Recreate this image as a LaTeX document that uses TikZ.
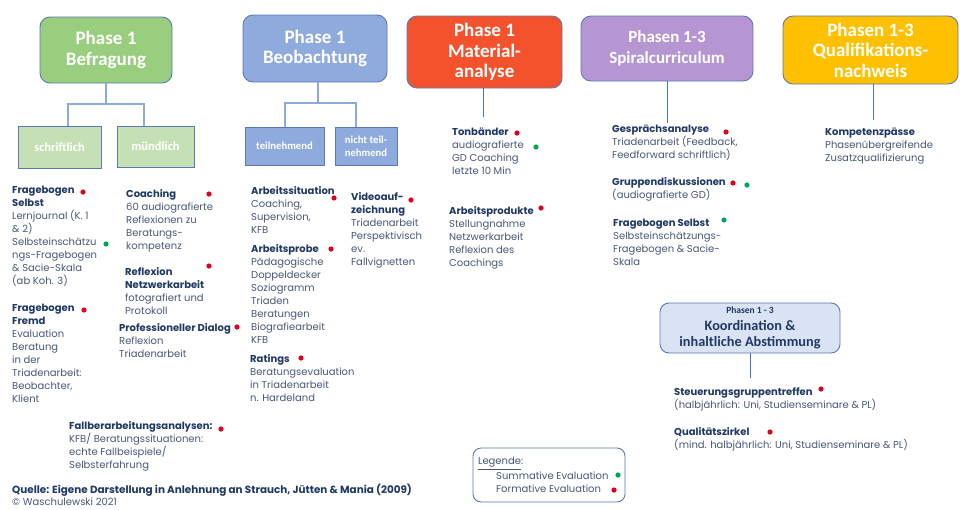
\documentclass[tikz,border=0pt]{standalone}
\usepackage{fontspec}
\setmainfont{Poppins}
\newfontfamily\calibrifont{Carlito}
\usetikzlibrary{positioning}

\definecolor{navy}{HTML}{203864}
\definecolor{bodygray}{HTML}{485878}
\definecolor{boxline}{HTML}{5A79B5}
\definecolor{treeblue}{HTML}{8EA9DB}
\definecolor{stemblue}{HTML}{4472C4}
\definecolor{befrgreen}{HTML}{99CE7E}
\definecolor{subgreen}{HTML}{C5E0B4}
\definecolor{beobblue}{HTML}{8FAADC}
\definecolor{matorange}{HTML}{F4522D}
\definecolor{spiralpurple}{HTML}{B596D2}
\definecolor{qualigold}{HTML}{FFC000}
\definecolor{koordblue}{HTML}{DAE3F3}
\definecolor{evalred}{HTML}{E0001B}
\definecolor{evalgreen}{HTML}{00A651}

\newcommand{\kopf}[1]{{\bfseries\color{navy}#1}}

\tikzset{
    phasebox/.style={draw=boxline, line width=0.9pt, rounded corners=10pt, text=white,
        align=center, inner sep=0pt, font=\calibrifont\bfseries\fontsize{19}{20.5}\selectfont},
    subbox/.style={draw=boxline, line width=0.8pt, text=white, align=center, inner sep=0pt},
    infotext/.style={anchor=north west, align=left, inner sep=0pt, text=bodygray,
        font=\fontsize{10}{13}\selectfont},
    treeline/.style={treeblue, line width=1.3pt},
    stemline/.style={stemblue, line width=1pt},
    reddot/.style={fill=evalred},
    greendot/.style={fill=evalgreen},
}

\begin{document}
\begin{tikzpicture}[x=1pt,y=-1pt]
  \useasboundingbox[fill=white] (0,0) rectangle (960,509);

  % Phasen oben
  \node[phasebox,fill=befrgreen,minimum width=132,minimum height=66] (befr) at (106,50) {Phase 1\\Befragung};
  \node[phasebox,fill=beobblue,minimum width=144,minimum height=67] (beob) at (315,48.5) {Phase 1\\Beobachtung};
  \node[phasebox,fill=matorange,minimum width=155,minimum height=72] (mat) at (484.5,52) {Phase 1\\Material-\\analyse};
  \node[phasebox,fill=spiralpurple,minimum width=172,minimum height=65,
      font=\calibrifont\bfseries\fontsize{17}{21}\selectfont] (spiral) at (667,48.5) {Phasen 1-3\\Spiralcurriculum};
  \node[phasebox,fill=qualigold,minimum width=175,minimum height=68] (quali) at (870.5,50) {Phasen 1-3\\Qualifikations-\\nachweis};

  % Unterkaesten
  \node[subbox,fill=subgreen,minimum width=83,minimum height=42,
      font=\calibrifont\bfseries\fontsize{12.5}{14}\selectfont] (schr) at (59.5,147) {schriftlich};
  \node[subbox,fill=subgreen,minimum width=77,minimum height=41,
      font=\calibrifont\bfseries\fontsize{12.5}{14}\selectfont] (muend) at (155.5,146.5) {mündlich};
  \node[subbox,fill=beobblue,minimum width=79,minimum height=38,
      font=\calibrifont\bfseries\fontsize{10.7}{13}\selectfont] (teiln) at (284.5,146) {teilnehmend};
  \node[subbox,fill=beobblue,minimum width=62,minimum height=38,
      font=\calibrifont\bfseries\fontsize{10.7}{13}\selectfont] (nteiln) at (366,146) {nicht teil-\\nehmend};

  % Baumlinien
  \coordinate (befrL) at (68,104);
  \coordinate (befrR) at (144,104);
  \draw[treeline] (befr.south) -- (befr.south |- befrL);
  \draw[treeline] (befrL |- schr.north) -- (befrL) -- (befrR) -- (befrR |- muend.north);
  \coordinate (beobL) at (285,103);
  \coordinate (beobR) at (356,103);
  \draw[treeline] (318,0 |- beob.south) -- (318,103);
  \draw[treeline] (beobL |- teiln.north) -- (beobL) -- (beobR) -- (beobR |- nteiln.north);

  % Stiele
  \coordinate (matend) at (483,117);
  \coordinate (spiralend) at (667,123);
  \coordinate (qualiend) at (873,120);
  \draw[stemline] (matend |- mat.south) -- (matend);
  \draw[stemline] (spiral.south) -- (spiralend);
  \draw[stemline] (qualiend |- quali.south) -- (qualiend);

  % Befragung
  \node[infotext] (fbselbst) at (12,186) {\kopf{Fragebogen}\\\kopf{Selbst}\\Lernjournal (K. 1\\\& 2)\\Selbsteinschätzu\\ngs-Fragebogen\\\& Sacie-Skala\\(ab Koh. 3)};
  \node[infotext] (fbfremd) at (12,304) {\kopf{Fragebogen}\\\kopf{Fremd}\\Evaluation\\Beratung\\in der\\Triadenarbeit:\\Beobachter,\\Klient};
  \node[infotext] (coaching) at (126,189) {\kopf{Coaching}\\60 audiografierte\\Reflexionen zu\\Beratungs-\\kompetenz};
  \node[infotext] (reflex) at (125,267) {\kopf{Reflexion}\\\kopf{Netzwerkarbeit}\\fotografiert und\\Protokoll};
  \node[infotext] (dialog) at (119,323) {\kopf{Professioneller Dialog}\\Reflexion\\Triadenarbeit};
  \node[infotext] (fallber) at (69,421) {\kopf{Fallberarbeitungsanalysen:}\\KFB/ Beratungssituationen:\\echte Fallbeispiele/\\Selbsterfahrung};

  % Beobachtung
  \node[infotext] (arbsit) at (251,186) {\kopf{Arbeitssituation}\\Coaching,\\Supervision,\\KFB};
  \node[infotext] (arbprobe) at (251,244) {\kopf{Arbeitsprobe}\\Pädagogische\\Doppeldecker\\Soziogramm\\Triaden\\Beratungen\\Biografiearbeit\\KFB};
  \node[infotext] (ratings) at (250,354) {\kopf{Ratings}\\Beratungsevaluation\\in Triadenarbeit\\n. Hardeland};
  \node[infotext] (video) at (351,192) {\kopf{Videoauf-}\\\kopf{zeichnung}\\Triadenarbeit\\Perspektivisch\\ev.\\Fallvignetten};

  % Materialanalyse
  \node[infotext] (tonb) at (452,128) {\kopf{Tonbänder}\\audiografierte\\GD Coaching\\letzte 10 Min};
  \node[infotext] (arbprod) at (449,206) {\kopf{Arbeitsprodukte}\\Stellungnahme\\Netzwerkarbeit\\Reflexion des\\Coachings};

  % Spiralcurriculum
  \node[infotext] (gespr) at (612,125) {\kopf{Gesprächsanalyse}\\Triadenarbeit (Feedback,\\Feedforward schriftlich)};
  \node[infotext] (gruppen) at (612,177) {\kopf{Gruppendiskussionen}\\(audiografierte GD)};
  \node[infotext] (fbspiral) at (613,219) {\kopf{Fragebogen Selbst}\\Selbsteinschätzungs-\\Fragebogen \& Sacie-\\Skala};

  % Qualifikationsnachweis
  \node[infotext] (kompet) at (825,128) {\kopf{Kompetenzpässe}\\Phasenübergreifende\\Zusatzqualifizierung};

  % Koordination
  \node[draw=boxline, line width=0.9pt, fill=koordblue, rounded corners=9pt, inner sep=0pt,
      minimum width=180, minimum height=50, align=center, text=navy,
      font=\calibrifont\bfseries\fontsize{14.3}{16.5}\selectfont] (koord) at (750,328)
      {{\fontsize{9.5}{11}\selectfont Phasen 1 - 3}\\Koordination \&\\inhaltliche Abstimmung};
  \coordinate (koordend) at (750,378);
  \draw[stemline] (koord.south) -- (koordend);
  \node[infotext] (steuer) at (674,387) {\kopf{Steuerungsgruppentreffen}\\(halbjährlich: Uni, Studienseminare \& PL)};
  \node[infotext] (qzirkel) at (674,427) {\kopf{Qualitätszirkel}\\(mind. halbjährlich: Uni, Studienseminare \& PL)};

  % Legende
  \node[draw=boxline, line width=0.9pt, rounded corners=8pt, minimum width=152, minimum height=54] (legbox) at (549,475) {};
  \node[infotext] (legtitel) at (478,457) {\underline{Legende}:};
  \node[infotext] (legsum) at (496,472) {Summative Evaluation\\Formative Evaluation};

  % Quelle
  \node[infotext, font=\fontsize{10.4}{12}\selectfont] (quelle) at (12,484) {\kopf{Quelle: Eigene Darstellung in Anlehnung an Strauch, Jütten \& Mania (2009)}\\{\fontsize{10}{12}\selectfont\textcopyright{} Waschulewski 2021}};

  % Punkte
  \foreach \px/\py in {83/192, 84/310, 209/194, 209/266, 237/327, 221/429, 334/198, 331/249,
      301/358, 411/200, 517/133, 541/208, 726/132, 733/183, 821/389, 770/432, 614/490}
    \fill[reddot] (\px,\py) circle (2.6);
  \foreach \px/\py in {106/244, 536/147, 747/185, 724/220, 618/475}
    \fill[greendot] (\px,\py) circle (2.6);
\end{tikzpicture}
\end{document}
